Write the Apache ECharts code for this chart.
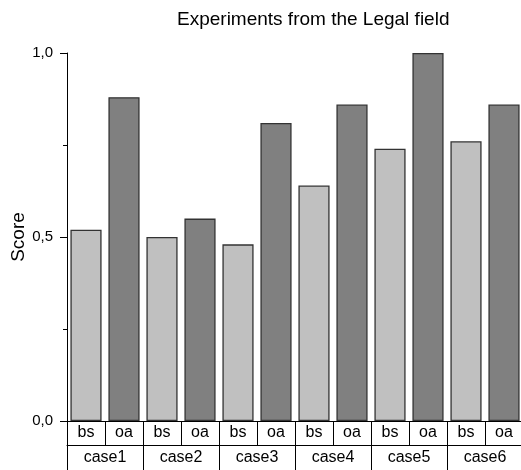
<!DOCTYPE html>
<html>
<head>
<meta charset="utf-8">
<script src="https://cdn.jsdelivr.net/npm/echarts@6/dist/echarts.min.js"></script>
<style>html,body{margin:0;padding:0;background:#fff}#c{width:521px;height:470px}</style>
</head>
<body>
<div id="c"></div>
<script>
var cases = ['case1', 'case2', 'case3', 'case4', 'case5', 'case6'];
var subLabels = ['bs', 'oa'];
var bsValues = [0.52, 0.50, 0.48, 0.64, 0.74, 0.76];
var oaValues = [0.88, 0.55, 0.81, 0.86, 1.00, 0.86];
var yTicks = [0, 0.5, 1.0];

var xCats = [];
var bsData = [];
var oaData = [];
cases.forEach(function (c, i) {
  xCats.push(subLabels[0], subLabels[1]);
  bsData.push(bsValues[i], '-');
  oaData.push('-', oaValues[i]);
});

var chart = echarts.init(document.getElementById('c'));
var font = 'Liberation Sans, Arial, sans-serif';
chart.setOption({
  animation: false,
  textStyle: { fontFamily: font },
  title: {
    text: 'Experiments from the Legal field',
    left: 172, top: 5,
    textStyle: { fontFamily: font, fontSize: 19, fontWeight: 'normal', color: '#000' }
  },
  grid: { left: 67, right: -2, top: 53, bottom: 49, containLabel: false, outerBoundsMode: 'none' },
  xAxis: [{
    type: 'category',
    data: xCats,
    position: 'bottom',
    axisLine: { show: true, lineStyle: { color: '#000', width: 1 } },
    axisTick: { show: true, interval: 0, length: 24, lineStyle: { color: '#000', width: 1 } },
    axisLabel: { interval: 0, margin: 4, fontSize: 16, color: '#000', fontFamily: font }
  }, {
    type: 'category',
    data: cases,
    position: 'bottom',
    offset: 24,
    axisLine: { show: true, lineStyle: { color: '#000', width: 1 } },
    axisTick: { show: true, interval: 0, length: 30, lineStyle: { color: '#000', width: 1 } },
    axisLabel: { interval: 0, margin: 5, fontSize: 16, color: '#000', fontFamily: font }
  }],
  yAxis: {
    type: 'value',
    min: yTicks[0], max: yTicks[yTicks.length - 1], interval: 0.5,
    name: 'Score', nameLocation: 'middle', nameGap: 39, nameMoveOverlap: false,
    nameTextStyle: { fontSize: 19, color: '#000', fontFamily: font },
    axisLine: { show: true, lineStyle: { color: '#000', width: 1 } },
    axisTick: { show: true, length: 7, lineStyle: { color: '#000', width: 1 } },
    minorTick: { show: true, splitNumber: 2, length: 4, lineStyle: { color: '#000', width: 1 } },
    splitLine: { show: false },
    axisLabel: {
      margin: 14, fontSize: 15, color: '#000', fontFamily: font,
      formatter: function (v) { return v.toFixed(1).replace('.', ','); }
    }
  },
  series: [{
    name: 'bs', type: 'bar', xAxisIndex: 0, data: bsData,
    barGap: '-100%', barCategoryGap: '18%',
    itemStyle: { color: '#c0c0c0', borderColor: '#333', borderWidth: 1.3 }
  }, {
    name: 'oa', type: 'bar', xAxisIndex: 0, data: oaData,
    barGap: '-100%', barCategoryGap: '18%',
    itemStyle: { color: '#808080', borderColor: '#333', borderWidth: 1.3 }
  }]
});
</script>
</body>
</html>
